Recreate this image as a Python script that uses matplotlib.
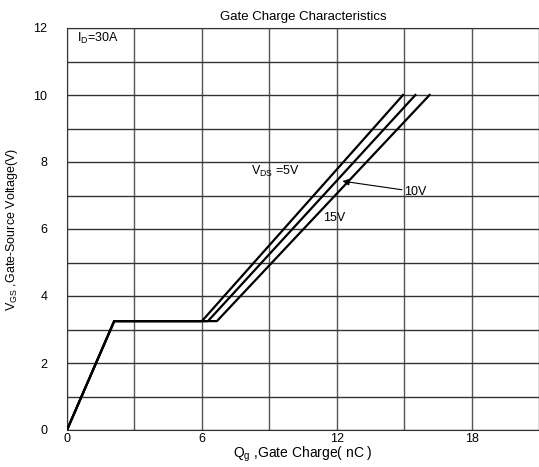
import matplotlib
matplotlib.use("Agg")
import matplotlib.pyplot as plt

# ---- data ------------------------------------------------------------------
qg_5v  = [0, 2.1, 6.00, 14.95]
qg_10v = [0, 2.1, 6.27, 15.50]
qg_15v = [0, 2.1, 6.67, 16.13]
vgs    = [0, 3.25, 3.25, 10.0]

x_ticks = [0, 6, 12, 18]
y_ticks = [0, 2, 4, 6, 8, 10, 12]

plt.rcParams["font.family"] = ["Liberation Sans", "DejaVu Sans"]

fig = plt.figure(figsize=(5.39, 4.67), dpi=100)
ax = fig.add_axes([67/539, 1 - 430/467, 1 - 67/539, (430 - 28)/467])

# grid: every 3 nC in x, every 1 V in y
for gx in range(0, 22, 3):
    ax.axvline(gx, color="#555555", lw=1.0, zorder=1)
for gy in range(0, 13):
    ax.axhline(gy, color="#333333", lw=1.0, zorder=1)

for q in (qg_5v, qg_10v, qg_15v):
    ax.plot(q, vgs, color="black", lw=1.6, zorder=3)

ax.set_xlim(0, 21)
ax.set_ylim(0, 12)
ax.set_xticks(x_ticks)
ax.set_yticks(y_ticks)
ax.tick_params(length=0, labelsize=9, colors="black")
ax.tick_params(axis="y", pad=14)
ax.tick_params(axis="x", pad=2)
for s in ("left", "top", "bottom"):
    ax.spines[s].set_color("#333333")
ax.spines["right"].set_visible(False)

ax.set_title("Gate Charge Characteristics", fontsize=9.5, pad=6)
ax.set_xlabel(r"$\mathregular{Q_g}$ ,Gate Charge( nC )", fontsize=10, labelpad=0)
ax.set_ylabel(r"$\mathregular{V_{GS}}$ ,Gate-Source Voltage(V)", fontsize=9, labelpad=10)

ax.text(0.44, 11.7, r"$\mathregular{I_D}$=30A", fontsize=9, va="center")
ax.text(8.2, 7.71, r"$\mathregular{V_{DS}}$ =5V", fontsize=9, va="center")
ax.text(15.0, 7.1, "10V", fontsize=9, va="center")
ax.text(11.4, 6.33, "15V", fontsize=9, va="center")
ax.annotate("", xy=(12.13, 7.44), xytext=(15.02, 7.16),
            arrowprops=dict(arrowstyle="-|>", color="black", lw=0.8,
                            mutation_scale=10), zorder=4)

fig.savefig("out.png", dpi=100)
